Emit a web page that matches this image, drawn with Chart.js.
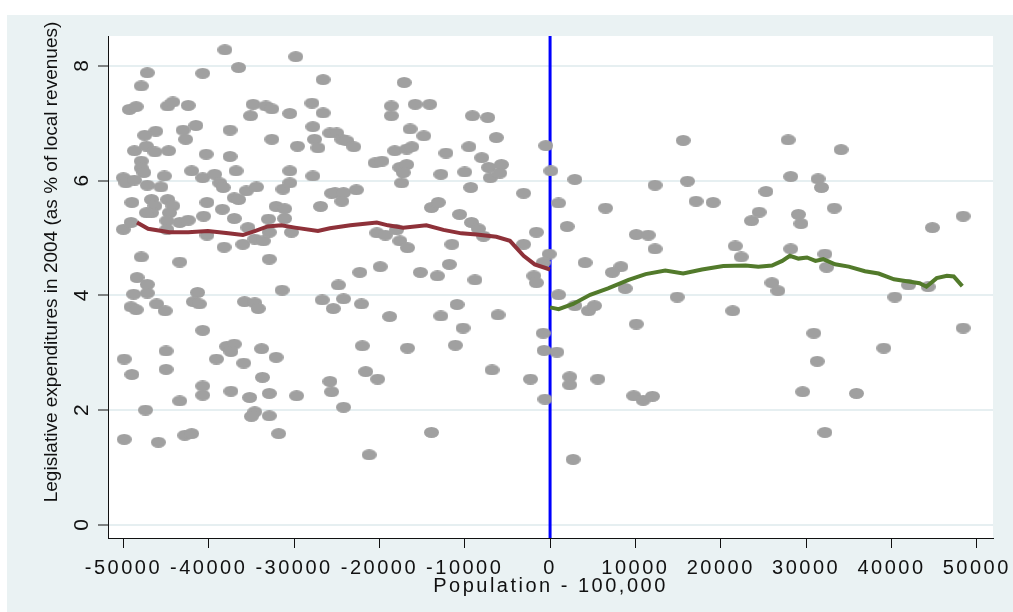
<!DOCTYPE html>
<html>
<head>
<meta charset="utf-8">
<script src="https://cdn.jsdelivr.net/npm/chart.js@4.4.1/dist/chart.umd.min.js"></script>
<style>
  html, body { margin: 0; padding: 0; background: #fff; }
  canvas { display: block; }
</style>
</head>
<body>
<canvas id="rd" width="1013" height="612"></canvas>
<script>
// axis setup
const xTicks = [-50000, -40000, -30000, -20000, -10000, 0, 10000, 20000, 30000, 40000, 50000];
const yTicks = [0, 2, 4, 6, 8];
const xRange = [-51800, 51900];
const yRange = [-0.23, 8.52];
const xTitle = "Population - 100,000";
const yTitle = "Legislative expenditures in 2004 (as % of local revenues)";

// municipalities below the 100,000 threshold
const popBelow = [
  -38100, -29800, -36500, -47200, -40700, -26600, -47900, -49300, -48500, -44800,
  -44200, -42400, -34800, -33300, -32600, -35100, -30500, -27900, -26600, -41500,
  -43000, -42700, -46200, -47500, -37500, -32600, -29600, -27800, -27600, -27200,
  -25800, -48700, -47300, -46300, -44700, -47900, -47900, -47600, -40300, -37500,
  -42000, -36800, -30500, -27800, -50000, -49700, -48700, -47200, -45200, -45600,
  -40700, -39300, -38700, -38300, -35600, -34400, -37000, -36500, -31300, -30500,
  -25600, -49000, -46700, -46300, -46700, -47300, -44800, -44200, -44600, -40200,
  -38400, -40600, -37000, -32100, -31100, -33000, -31100, -26900, -50000, -49100,
  -44900, -43400, -42400, -44900, -40200, -35400, -36000, -34600, -33600, -38200,
  -32900, -30300, -47900, -43400, -32900, -48400, -47200,
  -17100, -18600, -18600, -15800, -14100, -25000, -24400, -23800, -23000, -16400,
  -14800, -9100, -7300, -6300, -18200, -16800, -16200, -12200, -9500, -8000,
  -500, -20500, -19700, -17600, -16800, -17200, -17400, -12800, -10000, -7200,
  -5700, -7000, -5900, -9300, -3100, -25200, -24200, -22700, -24400, -13900,
  -13100, -10600, -9200, -8400, -7800, -1600, -20300, -19300, -18000, -17600,
  -16700, -11500, -3100, -100, -800, -11800, -22300, -19900, -15200, -13200,
  -8800, -1900, -1600, -24800,
  -47200, -48800, -49100, -48500, -46100, -45100, -41300, -41800, -41100, -35800,
  -34600, -34200, -31400, -26700, -25400, -40700, -49900, -49000, -45000, -45000,
  -39100, -37900, -37000, -37400, -35900, -33800, -32100, -33700, -40700, -40700,
  -37400, -35200, -32900, -29700, -25800, -25600, -47400, -43400, -34600, -35000,
  -32900, -49900, -45900, -42800, -42000, -31800,
  -24200, -22100, -18800, -12800, -10900, -10200, -6100, -800, -22000, -16700,
  -11100, -700, -21600, -20200, -6800, -2300, -600, -24200, -13900, -21200
];
const expBelow = [
  8.28, 8.16, 7.97, 7.88, 7.87, 7.76, 7.65, 7.24, 7.29, 7.30,
  7.37, 7.31, 7.33, 7.30, 7.25, 7.13, 7.17, 7.35, 7.18, 6.96,
  6.88, 6.72, 6.86, 6.79, 6.88, 6.72, 6.60, 6.94, 6.72, 6.57,
  6.83, 6.52, 6.60, 6.50, 6.52, 6.34, 6.22, 6.14, 6.46, 6.42,
  6.17, 6.17, 6.17, 6.08, 6.05, 5.96, 6.01, 5.92, 6.08, 5.89,
  6.05, 6.11, 5.96, 5.88, 5.82, 5.89, 5.70, 5.67, 5.85, 5.96,
  5.78, 5.62, 5.67, 5.56, 5.44, 5.44, 5.67, 5.56, 5.44, 5.62,
  5.50, 5.38, 5.34, 5.55, 5.51, 5.33, 5.34, 5.55, 5.15, 5.27,
  5.30, 5.27, 5.31, 5.15, 5.05, 5.18, 4.89, 4.98, 4.95, 4.84,
  5.10, 5.10, 4.67, 4.58, 4.63, 4.31, 4.19,
  7.71, 7.30, 7.13, 7.33, 7.33, 6.83, 6.72, 6.69, 6.59, 6.90,
  6.78, 7.13, 7.10, 6.75, 6.52, 6.55, 6.59, 6.48, 6.59, 6.40,
  6.61, 6.31, 6.34, 6.23, 6.28, 6.14, 5.96, 6.11, 6.15, 6.23,
  6.28, 6.05, 6.13, 5.88, 5.78, 5.79, 5.79, 5.84, 5.64, 5.53,
  5.62, 5.41, 5.27, 5.16, 5.03, 5.10, 5.09, 5.05, 5.14, 4.95,
  4.83, 4.89, 4.89, 4.72, 4.57, 4.54, 4.40, 4.50, 4.40, 4.34,
  4.27, 4.34, 4.22, 4.18,
  4.04, 4.02, 3.80, 3.75, 3.85, 3.73, 4.05, 3.89, 3.85, 3.89,
  3.87, 3.77, 4.09, 3.92, 3.77, 3.39, 2.89, 2.62, 3.03, 2.71,
  2.89, 3.11, 3.15, 3.02, 2.82, 3.07, 2.92, 2.57, 2.42, 2.26,
  2.33, 2.22, 2.29, 2.25, 2.50, 2.32, 2.00, 2.16, 1.97, 1.89,
  1.90, 1.49, 1.44, 1.56, 1.59, 1.59,
  3.94, 3.85, 3.63, 3.64, 3.84, 3.43, 3.66, 3.34, 3.12, 3.08,
  3.13, 3.04, 2.67, 2.54, 2.70, 2.54, 2.19, 2.05, 1.61, 1.22
];

// municipalities above the threshold
const popAbove = [
  100, 2900, 15600, 27900, 34100, 12300, 16100, 28200, 31400, 31800,
  1000, 6500, 17100, 19100, 25300, 24500, 23600, 29100, 29400, 33300,
  48400, 44800, 2000, 10100, 11500, 12300, 4100, 8300, 7300, 21700,
  22400, 28200, 32200, 32400, 26000, 42000, 44300, 8800, 1000, 2900,
  4500, 5200, 14900, 21400, 26700, 40400, 48400, 800, 10100, 30900,
  31300, 39100, 2300, 2300, 5600, 9800, 10900, 12000, 29600, 35900,
  32200, 2700
];
const expAbove = [
  6.17, 6.02, 6.70, 6.71, 6.54, 5.92, 5.99, 6.07, 6.03, 5.88,
  5.61, 5.52, 5.64, 5.62, 5.81, 5.45, 5.30, 5.41, 5.25, 5.52,
  5.38, 5.18, 5.20, 5.06, 5.05, 4.81, 4.57, 4.50, 4.40, 4.86,
  4.67, 4.81, 4.72, 4.49, 4.22, 4.18, 4.15, 4.12, 4.01, 3.82,
  3.73, 3.82, 3.97, 3.73, 4.08, 3.97, 3.43, 3.01, 3.50, 3.34,
  2.85, 3.08, 2.58, 2.44, 2.54, 2.25, 2.17, 2.24, 2.32, 2.29,
  1.61, 1.14
];

// local fits on each side
const fitBelowX = [-48400, -47100, -44600, -42400, -40100, -37700, -36000, -34600, -33100, -31500,
  -29900, -27200, -25800, -23400, -20300, -19000, -17200, -14500, -12500, -10400,
  -8600, -6300, -4700, -3100, -1800, 0];
const fitBelowY = [5.27, 5.16, 5.10, 5.10, 5.12, 5.08, 5.05, 5.12, 5.20, 5.22,
  5.18, 5.12, 5.17, 5.22, 5.27, 5.22, 5.18, 5.22, 5.14, 5.08,
  5.06, 5.02, 4.95, 4.69, 4.54, 4.45];
const fitAboveX = [0, 1000, 2700, 4700, 6800, 9200, 11200, 13500, 15600, 17800,
  20300, 22900, 24400, 26000, 27200, 28100, 29100, 30100, 31100, 32000,
  33400, 35000, 36900, 38500, 40300, 42000, 43300, 44100, 45300, 46500,
  47300, 48300];
const fitAboveY = [3.79, 3.76, 3.85, 4.01, 4.12, 4.27, 4.37, 4.43, 4.38, 4.45,
  4.51, 4.52, 4.50, 4.52, 4.60, 4.69, 4.64, 4.66, 4.60, 4.63,
  4.54, 4.50, 4.42, 4.38, 4.28, 4.24, 4.21, 4.15, 4.30, 4.34,
  4.33, 4.16];

const FONT = '"Liberation Sans", Arial, sans-serif';
const INK = "#111";

const zip = (xs, ys) => xs.map((x, i) => ({ x: x, y: ys[i] }));

// Stata-like squashed marker
function ellipseMarker(w, h, color) {
    const c = document.createElement("canvas");
    c.width = w;
    c.height = h;
    const g = c.getContext("2d");
    g.fillStyle = color;
    g.beginPath();
    g.ellipse(w / 2, h / 2, w / 2, h / 2, 0, 0, Math.PI * 2);
    g.fill();
    return c;
}

const frame = {
    id: "frame",
    beforeDraw(chart) {
        const { ctx, chartArea: a } = chart;
        ctx.save();
        ctx.fillStyle = "#fff";
        ctx.fillRect(0, 0, chart.width, chart.height);
        ctx.fillStyle = "#EAF2F3";
        ctx.fillRect(7, 15, chart.width - 7, chart.height - 15);
        ctx.fillStyle = "#fff";
        ctx.fillRect(a.left, a.top, a.right - a.left, a.bottom - a.top);
        ctx.restore();
        ctx.letterSpacing = "2.5px";
    },
    afterDraw(chart) {
        const { ctx } = chart;
        const ys = chart.scales.y;
        ctx.save();
        ctx.letterSpacing = "0px";
        ctx.fillStyle = INK;
        ctx.textAlign = "center";
        ctx.textBaseline = "middle";
        ctx.font = "21px " + FONT;
        yTicks.forEach(v => {
            ctx.save();
            ctx.translate(82, ys.getPixelForValue(v));
            ctx.rotate(-Math.PI / 2);
            ctx.fillText(String(v), 0, 0);
            ctx.restore();
        });
        ctx.font = "19px " + FONT;
        ctx.translate(52, 262);
        ctx.rotate(-Math.PI / 2);
        ctx.fillText(yTitle, 0, 0);
        ctx.restore();
    }
};

new Chart(document.getElementById("rd"), {
    type: "scatter",
    data: {
        datasets: [
            {
                data: zip(popBelow, expBelow).concat(zip(popAbove, expAbove)),
                pointStyle: ellipseMarker(15, 11, "#A0A0A0"),
                pointRadius: 6,
                order: 5
            },
            {
                data: zip(fitBelowX, fitBelowY),
                showLine: true,
                borderColor: "#8E3139",
                borderWidth: 4,
                pointRadius: 0,
                order: 1
            },
            {
                data: zip(fitAboveX, fitAboveY),
                showLine: true,
                borderColor: "#527A2B",
                borderWidth: 4,
                pointRadius: 0,
                order: 1
            },
            {
                data: [{ x: 0, y: yRange[0] }, { x: 0, y: yRange[1] }],
                showLine: true,
                borderColor: "#0000FF",
                borderWidth: 3,
                pointRadius: 0,
                order: 10
            }
        ]
    },
    options: {
        responsive: false,
        animation: false,
        events: [],
        layout: { padding: { left: 0, top: 36, right: 20, bottom: 0 } },
        plugins: { legend: { display: false }, tooltip: { enabled: false } },
        scales: {
            x: {
                type: "linear",
                min: xRange[0],
                max: xRange[1],
                afterBuildTicks: s => { s.ticks = xTicks.map(v => ({ value: v })); },
                afterFit: s => { s.height = 74; },
                grid: { drawOnChartArea: false, drawTicks: true, tickLength: 10, tickColor: INK, tickWidth: 1 },
                border: { display: true, color: INK, width: 1 },
                ticks: {
                    color: INK, padding: 8, autoSkip: false, maxRotation: 0,
                    font: { family: FONT, size: 20 },
                    callback: v => String(v)
                },
                title: {
                    display: true, text: xTitle, color: INK,
                    font: { family: FONT, size: 20 },
                    padding: { top: 0, bottom: 14 }
                }
            },
            y: {
                type: "linear",
                min: yRange[0],
                max: yRange[1],
                afterBuildTicks: s => { s.ticks = yTicks.map(v => ({ value: v })); },
                afterFit: s => { s.width = 108; },
                grid: { color: "#E6EFF1", lineWidth: 2, tickColor: INK, tickWidth: 1, tickLength: 10 },
                border: { display: true, color: INK, width: 1 },
                ticks: { display: false }
            }
        }
    },
    plugins: [frame]
});
</script>
</body>
</html>
